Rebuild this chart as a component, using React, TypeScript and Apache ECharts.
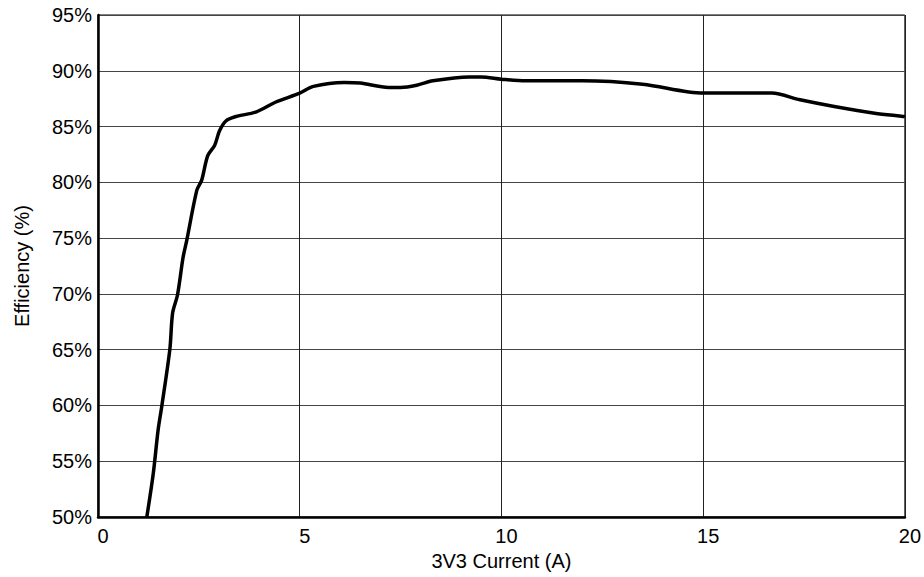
import React, { useEffect, useRef } from "react";
import * as echarts from "echarts";

const currentA: number[] = [1.21, 1.37, 1.49, 1.58, 1.78, 1.85, 1.97, 2.11, 2.2, 2.45, 2.57, 2.72, 2.89, 3.01, 3.17, 3.42, 3.91, 4.41, 5.0, 5.34, 6.1, 6.5, 7.2, 7.5, 7.9, 8.3, 9.2, 9.5, 10.0, 10.6, 12.0, 13.5, 15.0, 16.7, 17.4, 18.25, 19.25, 20];
const efficiency: number[] = [50, 53.9, 57.8, 59.9, 65, 68.3, 69.9, 73.3, 74.8, 79.3, 80.2, 82.4, 83.3, 84.6, 85.5, 85.9, 86.3, 87.2, 88.0, 88.6, 88.95, 88.9, 88.5, 88.5, 88.7, 89.1, 89.45, 89.45, 89.25, 89.1, 89.1, 88.8, 88.0, 88.0, 87.4, 86.8, 86.2, 85.9];

const xTicks = { min: 0, max: 20, interval: 5 };
const yTicks = { min: 50, max: 95, interval: 5 };

export default function App() {
  const ref = useRef<HTMLDivElement>(null);
  useEffect(() => {
    if (!ref.current) return;
    const chart = echarts.init(ref.current, null, { renderer: "svg" });
    const font = "Liberation Sans, Arial, sans-serif";
    chart.setOption({
      animation: false,
      backgroundColor: "#fff",
      grid: {
        left: 98,
        right: 19,
        top: 15,
        bottom: 60,
        show: true,
        borderColor: "#000",
        borderWidth: 1,
      },
      xAxis: {
        type: "value",
        min: xTicks.min,
        max: xTicks.max,
        interval: xTicks.interval,
        name: "3V3 Current (A)",
        nameLocation: "middle",
        nameGap: 31,
        nameTextStyle: { fontFamily: font, fontSize: 20, color: "#000" },
        axisLine: { show: true, lineStyle: { color: "#000", width: 2.5 } },
        axisTick: { show: false },
        axisLabel: { fontFamily: font, fontSize: 20, color: "#000", margin: 9, padding: [0, 0, 0, 10] },
        splitLine: { show: true, lineStyle: { color: "#222", width: 1 } },
      },
      yAxis: {
        type: "value",
        min: yTicks.min,
        max: yTicks.max,
        interval: yTicks.interval,
        name: "Efficiency (%)",
        nameLocation: "middle",
        nameGap: 66,
        nameTextStyle: { fontFamily: font, fontSize: 20, color: "#000" },
        axisLine: { show: true, lineStyle: { color: "#000", width: 2.5 } },
        axisTick: { show: false },
        axisLabel: { fontFamily: font, fontSize: 20, color: "#000", margin: 6, formatter: "{value}%" },
        splitLine: { show: true, lineStyle: { color: "#444", width: 1 } },
      },
      series: [
        {
          type: "line",
          data: currentA.map((x, i) => [x, efficiency[i]]),
          showSymbol: false,
          smooth: 0.3,
          lineStyle: { color: "#000", width: 3.5 },
          clip: true,
        },
      ],
    });
    return () => chart.dispose();
  }, []);
  return <div ref={ref} style={{ width: 924, height: 577, position: "absolute", left: 0, top: 0 }} />;
}
